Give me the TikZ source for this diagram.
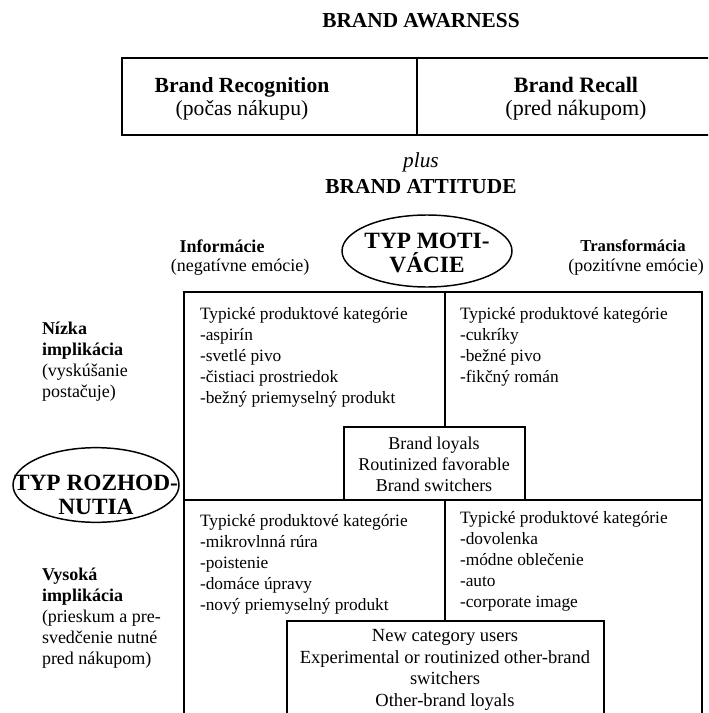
\documentclass[tikz,border=0pt]{standalone}
\usepackage{fontspec}
\setmainfont{Liberation Serif}

\begin{document}
\begin{tikzpicture}[x=0.75pt,y=-0.75pt,
  every node/.style={inner sep=0pt, outer sep=0pt},
  head/.style={font=\fontsize{16}{17.25}\selectfont, align=center},
  side/.style={font=\fontsize{13.5}{15.75}\selectfont},
  body/.style={font=\fontsize{13}{15.75}\selectfont, align=left, anchor=north west},
  thin/.style={font=\fontsize{13.5}{15.75}\selectfont, align=center},
  ovaltext/.style={font=\fontsize{17.5}{18}\selectfont\bfseries, align=center},
  oval/.style={line width=1.1pt},
  frame/.style={draw, line width=2pt, anchor=north west},
  inbox/.style={draw, line width=1.5pt, fill=white, anchor=north west}
]
\clip (0,0) rectangle (708,713);
\useasboundingbox (0,0) rectangle (708,713);

% brand awareness
\node[head, font=\fontsize{16}{17.25}\selectfont\bfseries] (aw) at (421,21) {BRAND AWARNESS};
\node[frame, minimum width=221.25pt, minimum height=57.75pt] (recog) at (122,58) {};
\node[frame, minimum width=240pt, minimum height=57.75pt] (recall) at (417,58) {};
\node[head, font=\fontsize{16.2}{17.25}\selectfont] (recogt) at (242,99) {\textbf{Brand Recognition}\\(počas nákupu)};
\node[head, font=\fontsize{16.5}{17.25}\selectfont] (recallt) at (576,99) {\textbf{Brand Recall}\\(pred nákupom)};

% brand attitude
\node[head] (att) at (421,173) {\textit{plus}\\[2pt]\textbf{BRAND ATTITUDE}};

% motivation axis
\node[ovaltext] (mot) at (427,253) {TYP MOTI-\\VÁCIE};
\draw[oval] (427,251) ellipse [x radius=63.75pt, y radius=27pt];
\node[side, font=\fontsize{13.5}{15.75}\selectfont\bfseries] (info) at (222,246) {Informácie};
\node[side] (infon) at (240,267) {(negatívne emócie)};
\node[side, font=\fontsize{12.5}{15.75}\selectfont\bfseries] (trans) at (633,246) {Transformácia};
\node[side] (transn) at (636,267) {(pozitívne emócie)};

% decision axis
\node[ovaltext] (roz) at (96,495) {TYP ROZHOD-\\NUTIA};
\draw[oval] (96,485) ellipse [x radius=62.25pt, y radius=28pt];
\node[body, font=\fontsize{13.5}{15.75}\selectfont] (low) at (42,322)
  {\textbf{Nízka}\\\textbf{implikácia}\\(vyskúšanie\\postačuje)};
\node[body, font=\fontsize{13.5}{15.75}\selectfont] (high) at (42,568)
  {\textbf{Vysoká}\\\textbf{implikácia}\\(prieskum a pre-\\svedčenie nutné\\pred nákupom)};

% grid of product categories
\node[frame, minimum width=195.75pt, minimum height=156pt] (ul) at (184,292) {};
\node[frame, minimum width=192.75pt, minimum height=156pt] (ur) at (445,292) {};
\node[frame, minimum width=195.75pt, minimum height=180pt] (ll) at (184,500) {};
\node[frame, minimum width=192.75pt, minimum height=180pt] (lr) at (445,500) {};

\node[body] (ult) at (200,307)
  {Typické produktové kategórie\\-aspirín\\-svetlé pivo\\-čistiaci prostriedok\\-bežný priemyselný produkt};
\node[body] (urt) at (460,307)
  {Typické produktové kategórie\\-cukríky\\-bežné pivo\\-fikčný román};
\node[body] (llt) at (200,514)
  {Typické produktové kategórie\\-mikrovlnná rúra\\-poistenie\\-domáce úpravy\\-nový priemyselný produkt};
\node[body] (lrt) at (460,511)
  {Typické produktové kategórie\\-dovolenka\\-módne oblečenie\\-auto\\-corporate image};

% buyer groups
\node[inbox, minimum width=135.75pt, minimum height=54.75pt] (loyal) at (344,427) {};
\node[thin] (loyalt) at (434,464) {Brand loyals\\Routinized favorable\\Brand switchers};
\node[inbox, minimum width=237.75pt, minimum height=90pt] (newu) at (287,621) {};
\node[thin, font=\fontsize{13.9}{16.2}\selectfont] (newut) at (445,670)
  {New category users\\Experimental or routinized other-brand\\switchers\\Other-brand loyals};
\end{tikzpicture}
\end{document}
